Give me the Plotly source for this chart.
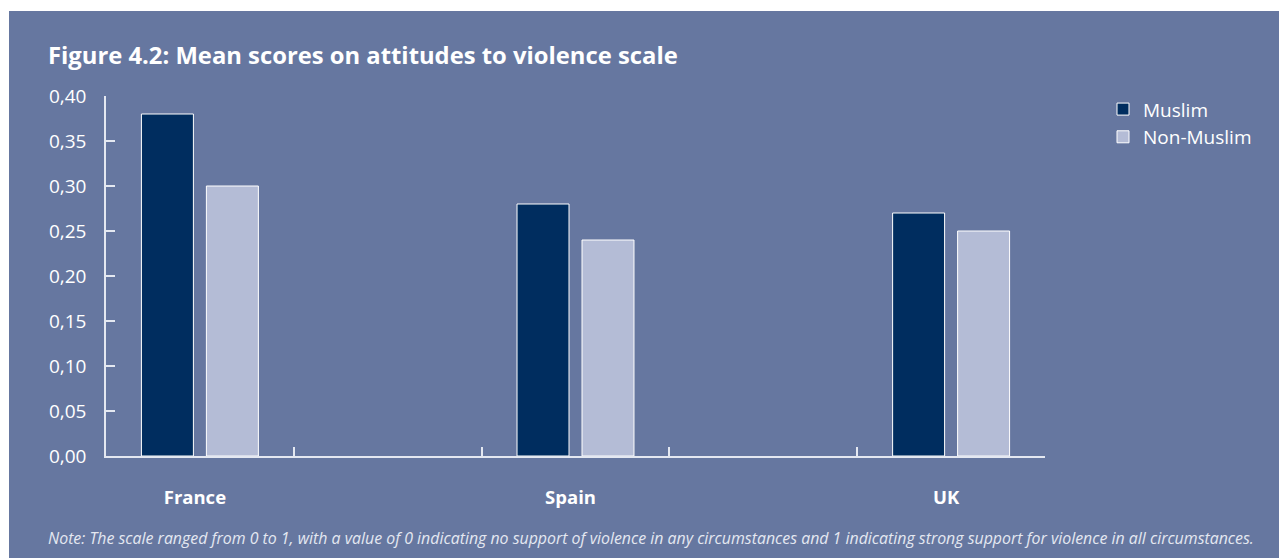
import plotly.graph_objects as go

categories = ["France", " ", "Spain", "  ", "UK"]
muslim = [0.38, None, 0.28, None, 0.27]
non_muslim = [0.30, None, 0.24, None, 0.25]
y_ticks = [0.0, 0.05, 0.10, 0.15, 0.20, 0.25, 0.30, 0.35, 0.40]

BG = "#6677a0"
DARK = "#002d5f"
LIGHT = "#b4bcd6"
LINE = "#e4e8f1"
FONT = "Open Sans"

W, H = 1280, 551
L, R, T, B = 98, 243, 88, 103
PW = W - L - R
PH = H - T - B

fig = go.Figure()
fig.add_trace(go.Bar(x=categories, y=muslim, name="Muslim",
                     marker=dict(color=DARK, line=dict(color="#ffffff", width=1))))
fig.add_trace(go.Bar(x=categories, y=non_muslim, name="Non-Muslim",
                     marker=dict(color=LIGHT, line=dict(color="#ffffff", width=1))))

fig.update_layout(
    width=W, height=H,
    margin=dict(l=L, r=R, t=T, b=B),
    paper_bgcolor="#ffffff",
    plot_bgcolor="rgba(0,0,0,0)",
    separators=",.",
    barmode="group",
    bargap=0.308,
    bargroupgap=0.2,
    font=dict(family=FONT, color="#ffffff"),
    title=dict(text="<b>Figure 4.2: Mean scores on attitudes to violence scale</b>",
               x=40 / W, xanchor="left", xref="container",
               y=1 - 48 / H, yanchor="middle", yref="container",
               font=dict(family=FONT, size=23.8, color="#ffffff")),
    showlegend=True,
    legend=dict(x=(1095 - L) / PW, xanchor="left", y=1.016, yanchor="top",
                bgcolor="rgba(0,0,0,0)", font=dict(family=FONT, size=19, color="#ffffff"),
                itemwidth=30, tracegroupgap=0),
    shapes=[dict(type="rect", xref="paper", yref="paper", layer="below",
                 x0=(1 - L) / PW, x1=1.4, y0=-0.5, y1=1 + (T - 3) / PH,
                 fillcolor=BG, line=dict(width=0))],
    annotations=[dict(text="<i>Note: The scale ranged from 0 to 1, with a value of 0 indicating no support of violence in any circumstances and 1 indicating strong support for violence in all circumstances.</i>",
                      xref="paper", yref="paper", x=(38 - L) / PW, xanchor="left",
                      y=1 - (530 - T) / PH, yanchor="middle", showarrow=False,
                      font=dict(family=FONT, size=15.9, color="#e4e8f1"))],
)

fig.update_xaxes(
    type="category", categoryorder="array", categoryarray=categories,
    range=[-0.5, 4.5],
    showline=True, linecolor=LINE, linewidth=1.5,
    ticks="inside", tickson="boundaries", ticklen=9, tickcolor=LINE, tickwidth=1.5,
    showgrid=False, zeroline=False,
    tickfont=dict(family=FONT, size=18.5, color="#ffffff", weight="bold"),
    ticklabelstandoff=24, ticklabelshift=-5,
)
fig.update_yaxes(
    range=[0, 0.40], tickvals=y_ticks, tickformat=".2f",
    showline=True, linecolor=LINE, linewidth=1.5,
    ticks="inside", ticklen=9, tickcolor=LINE, tickwidth=1.5,
    showgrid=False, zeroline=False,
    tickfont=dict(family=FONT, size=19, color="#ffffff"),
    ticklabelstandoff=14,
)

fig.write_html("out.html", post_script="document.body.style.overflow='hidden';")
